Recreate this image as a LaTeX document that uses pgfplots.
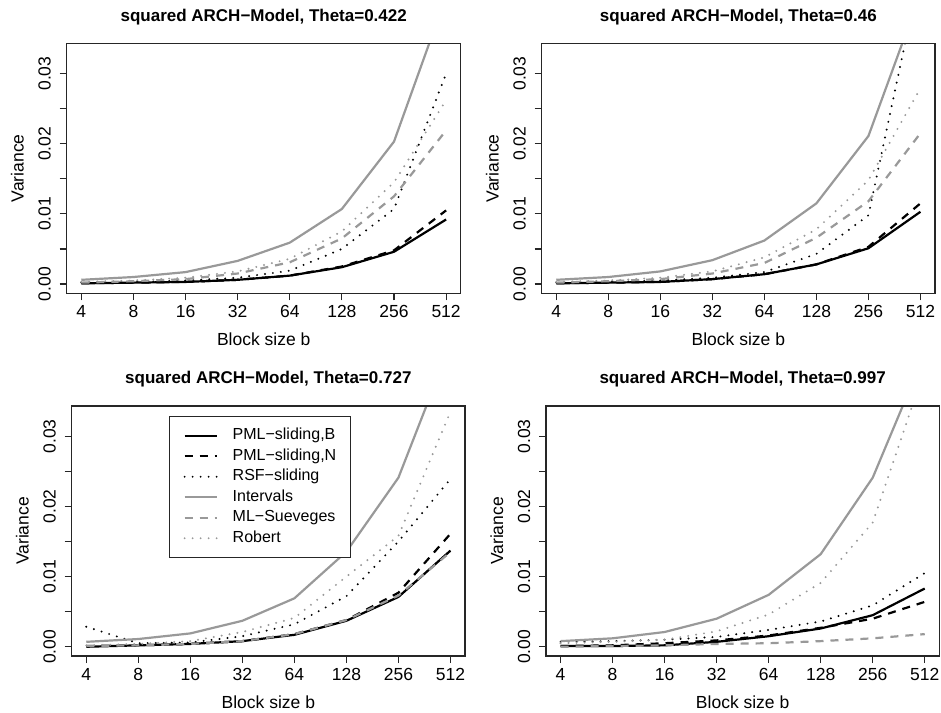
\documentclass[border=0pt]{standalone}
\usepackage{pgfplots}
\usepackage{pgfplotstable}
\pgfplotsset{compat=1.18}
\usepackage{fontspec}
\setmainfont{Liberation Sans}
\definecolor{rgray}{gray}{0.6}
\definecolor{frame}{gray}{0.15}

\pgfplotstableread{
x pmlb pmln rsf int ml rob
0 0.0001 0.0001 0.0002 0.0006 0.0002 0.0003
1 0.0002 0.0002 0.0003 0.0010 0.0004 0.0005
2 0.0003 0.0003 0.0005 0.0017 0.0007 0.0009
3 0.0006 0.0006 0.0009 0.0033 0.0015 0.0018
4 0.0012 0.0012 0.0019 0.0059 0.0031 0.0036
5 0.0024 0.0025 0.0050 0.0107 0.0065 0.0075
6 0.0046 0.0048 0.0107 0.0203 0.0125 0.0145
7 0.0092 0.0105 0.0300 0.0410 0.0219 0.0262
}\tA
\pgfplotstableread{
x pmlb pmln rsf int ml rob
0 0.0001 0.0001 0.0002 0.0006 0.0002 0.0003
1 0.0002 0.0002 0.0003 0.0010 0.0004 0.0005
2 0.0003 0.0003 0.0005 0.0018 0.0007 0.0009
3 0.0007 0.0007 0.0009 0.0034 0.0015 0.0018
4 0.0014 0.0014 0.0017 0.0062 0.0030 0.0038
5 0.0028 0.0028 0.0043 0.0115 0.0066 0.0078
6 0.0051 0.0053 0.0098 0.0211 0.0118 0.0148
7 0.0103 0.0115 0.0446 0.0414 0.0215 0.0279
}\tB
\pgfplotstableread{
x pmlb pmln rsf int ml rob
0 0.0000 0.0001 0.00285 0.0007 0.0001 0.0002
1 0.0002 0.0002 0.0005 0.0011 0.0002 0.0004
2 0.0004 0.0004 0.0006 0.0019 0.0004 0.0008
3 0.0008 0.0008 0.0015 0.0037 0.0008 0.0021
4 0.0017 0.0018 0.0032 0.0069 0.0018 0.0041
5 0.0037 0.0038 0.0072 0.01355 0.0038 0.0100
6 0.0071 0.0077 0.0150 0.0241 0.0073 0.0158
7 0.0137 0.0161 0.0239 0.0431 0.0135 0.0335
}\tC
\pgfplotstableread{
x pmlb pmln rsf int ml rob
0 0.0001 0.0001 0.0007 0.0008 0.0000 0.0005
1 0.0001 0.0002 0.0008 0.0012 0.0001 0.0007
2 0.0002 0.0005 0.0010 0.0021 0.0002 0.0010
3 0.0007 0.0009 0.0014 0.0040 0.0004 0.0022
4 0.0015 0.0016 0.0024 0.0074 0.0005 0.0046
5 0.0026 0.0027 0.0036 0.0132 0.0008 0.0091
6 0.0045 0.0040 0.0059 0.0241 0.0012 0.0177
7 0.0083 0.0064 0.0105 0.0418 0.0018 0.0396
}\tD

\pgfplotsset{
  rpanel/.style={
    scale only axis, width=393.3pt, height=250pt,
    xmin=-0.28, xmax=7.28, ymin=-0.00132, ymax=0.03432,
    xtick={0,1,2,3,4,5,6,7}, xticklabels={4,8,16,32,64,128,256,512},
    ytick={0,0.005,0.01,0.015,0.02,0.025,0.03},
    yticklabels={0.00,,0.01,,0.02,,0.03},
    scaled y ticks=false,
    tick align=outside, tick pos=left, major tick length=7pt,
    axis line style={line width=1.1pt, frame},
    every tick/.style={line width=1.1pt, frame},
    ticklabel style={font=\fontsize{17.5}{20}\selectfont},
    xticklabel style={anchor=base, inner sep=0pt, yshift=-17pt},
    yticklabel style={rotate=90, anchor=base, inner sep=0pt, yshift=9pt},
    title style={at={([yshift=16pt]rel axis cs:0.5,1)}, anchor=base, inner sep=0pt,
                 font=\bfseries\fontsize{17}{20}\selectfont},
    xlabel={Block size b},
    xlabel style={at={([yshift=-52pt]rel axis cs:0.5,0)}, anchor=base, inner sep=0pt,
                  font=\fontsize{17.5}{20}\selectfont},
    ylabel={Variance},
    ylabel style={at={([xshift=-43pt]rel axis cs:0,0.5)}, anchor=base, inner sep=0pt,
                  font=\fontsize{17.5}{20}\selectfont},
    every axis plot/.append style={line width=2.2pt, line join=round},
    after end axis/.code={\draw[frame, line width=1.1pt] (rel axis cs:0,0) rectangle (rel axis cs:1,1);},
  },
  spmlb/.style={black, solid},
  spmln/.style={black, dash pattern=on 8pt off 7pt},
  srsf/.style={black, line cap=round, dash pattern=on 0pt off 8pt},
  sint/.style={rgray, solid},
  sml/.style={rgray, dash pattern=on 8pt off 7pt},
  srob/.style={rgray, line cap=round, dash pattern=on 0pt off 8pt},
}

\newcommand{\allplots}[1]{%
  \addplot[spmlb] table[x=x,y=pmlb]{#1};
  \addplot[spmln] table[x=x,y=pmln]{#1};
  \addplot[srsf] table[x=x,y=rsf]{#1};
  \addplot[sint] table[x=x,y=int]{#1};
  \addplot[sml] table[x=x,y=ml]{#1};
  \addplot[srob] table[x=x,y=rob]{#1};
}

\begin{document}
\begin{tikzpicture}[x=1pt,y=1pt]
\useasboundingbox (0,0) rectangle (941,712);
\begin{axis}[rpanel, at={(66.7pt,418.7pt)}, anchor=south west, width=394pt,
  title={squared ARCH−Model, Theta=0.422}]
\allplots{\tA}
\end{axis}
\begin{axis}[rpanel, at={(541.7pt,418.7pt)}, anchor=south west,
  title={squared ARCH−Model, Theta=0.46}]
\allplots{\tB}
\end{axis}
\begin{axis}[rpanel, at={(71.7pt,56pt)}, anchor=south west,
  title={squared ARCH−Model, Theta=0.727},
  legend style={at={(rel axis cs:0.2474,0.96)}, anchor=north west,
    draw=frame, line width=1pt, fill=white,
    font=\fontsize{16}{19}\selectfont,
    inner xsep=14pt, inner ysep=11pt, row sep=4pt, column sep=15pt,
    nodes={inner xsep=0pt, inner ysep=0pt, text height=12.5pt, text depth=4pt, anchor=west}},
  legend cell align=left,
  legend image code/.code={\draw[#1] (0pt,0pt) -- (32pt,0pt);}]
\allplots{\tC}
\legend{PML−sliding{,}B, PML−sliding{,}N, RSF−sliding, Intervals, ML−Sueveges, Robert}
\end{axis}
\begin{axis}[rpanel, at={(546pt,56pt)}, anchor=south west,
  title={squared ARCH−Model, Theta=0.997}]
\allplots{\tD}
\end{axis}
\end{tikzpicture}
\end{document}
